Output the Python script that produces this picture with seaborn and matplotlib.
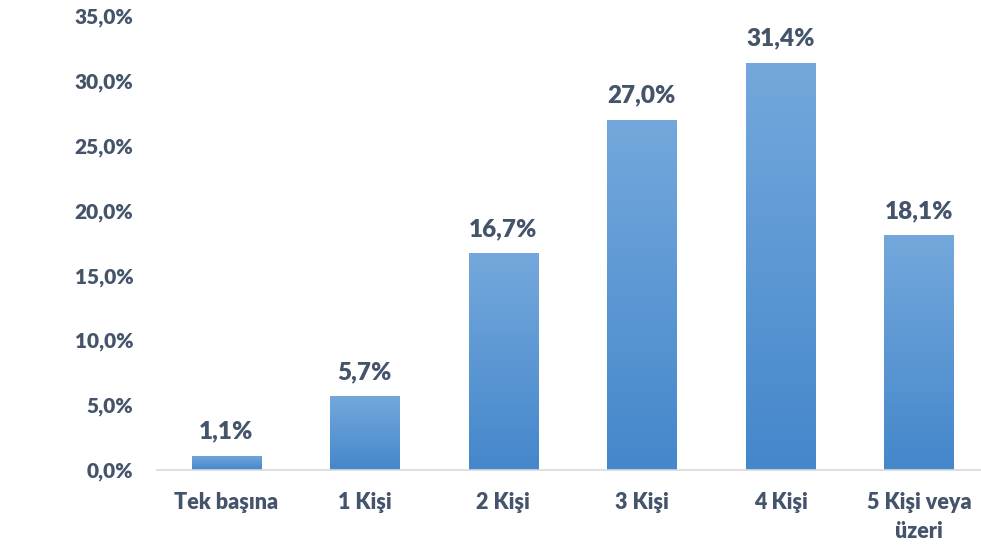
import numpy as np
import pandas as pd
import matplotlib
matplotlib.use("Agg")
import matplotlib.pyplot as plt
import seaborn as sns

categories = ["Tek başına", "1 Kişi", "2 Kişi", "3 Kişi", "4 Kişi", "5 Kişi veya\nüzeri"]
values = [1.1, 5.7, 16.7, 27.0, 31.4, 18.1]
yticks = [0, 5, 10, 15, 20, 25, 30, 35]

sns.set_theme(style="white")
plt.rcParams["font.family"] = ["Lato", "DejaVu Sans"]
text_color = "#44546A"

df = pd.DataFrame({"kategori": categories, "oran": values})

fig = plt.figure(figsize=(9.81, 5.47), dpi=100)
ax = fig.add_axes([0.16, 0.1408, 0.84, 0.8302])

sns.barplot(data=df, x="kategori", y="oran", color="#5B9BD5", width=0.5,
            saturation=1, ax=ax)

# vertical gradient fill for each bar
grad = np.linspace(0, 1, 256).reshape(-1, 1)
cmap = matplotlib.colors.LinearSegmentedColormap.from_list(
    "barfill", ["#4487CB", "#74A8DC"])
for patch in ax.patches:
    x0, y0 = patch.get_x(), patch.get_y()
    w, h = patch.get_width(), patch.get_height()
    im = ax.imshow(grad, cmap=cmap, aspect="auto", origin="lower",
                   extent=[x0, x0 + w, y0, y0 + h], zorder=patch.get_zorder() + 0.1)
    im.set_clip_path(patch)
    ax.text(x0 + w / 2, h + 1.0, f"{h:.1f}%".replace(".", ","),
            ha="center", va="bottom", fontsize=17.5, fontweight="heavy",
            color=text_color)

ax.set_xlim(-0.5, 5.447)
ax.set_ylim(0, 35)
ax.set_yticks(yticks)
ax.set_yticklabels([f"{t:.1f}%".replace(".", ",") for t in yticks])
ax.set_xlabel("")
ax.set_ylabel("")
ax.tick_params(axis="both", length=0, colors=text_color)
ax.tick_params(axis="y", pad=17, labelsize=15)
ax.tick_params(axis="x", pad=16, labelsize=15.5)
for lbl in ax.get_xticklabels() + ax.get_yticklabels():
    lbl.set_fontweight("heavy")
for lbl in ax.get_xticklabels():
    lbl.set_linespacing(1.45)
for s in ["top", "right", "left"]:
    ax.spines[s].set_visible(False)
ax.spines["bottom"].set_color("#D9D9D9")
ax.spines["bottom"].set_linewidth(1.2)
ax.grid(False)

fig.savefig("out.png", dpi=100)
